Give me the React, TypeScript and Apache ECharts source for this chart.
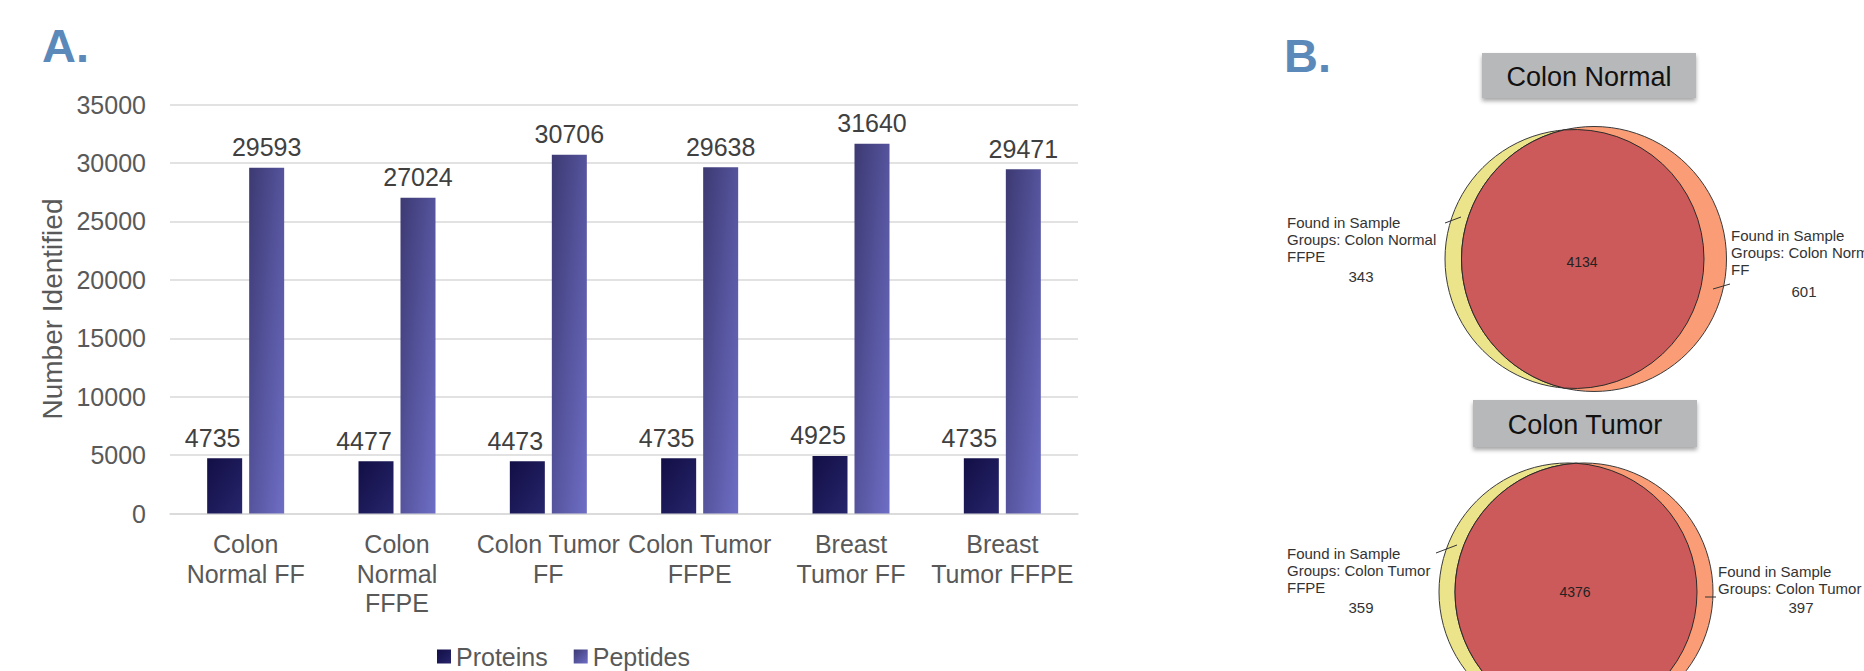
import React, { useEffect, useRef } from "react";
import * as echarts from "echarts";

// ---------- Panel A data ----------
const categories = [
  "Colon\nNormal FF",
  "Colon\nNormal\nFFPE",
  "Colon Tumor\nFF",
  "Colon Tumor\nFFPE",
  "Breast\nTumor FF",
  "Breast\nTumor FFPE",
];
const seriesNames = ["Proteins", "Peptides"];
const proteins = [4735, 4477, 4473, 4735, 4925, 4735];
const peptides = [29593, 27024, 30706, 29638, 31640, 29471];
const yMin = 0;
const yMax = 35000;
const yStep = 5000;
const yAxisTitle = "Number Identified";

// ---------- Panel B data ----------
const vennTitles = ["Colon Normal", "Colon Tumor"];
const vennLeftLabels = [
  "Found in Sample\nGroups: Colon Normal\nFFPE",
  "Found in Sample\nGroups: Colon Tumor\nFFPE",
];
const vennRightLabels = [
  "Found in Sample\nGroups: Colon Normal\nFF",
  "Found in Sample\nGroups: Colon Tumor FF",
];
const vennLeftCounts = [343, 359];
const vennRightCounts = [601, 397];
const vennOverlapCounts = [4134, 4376];
const panelLetters = ["A.", "B."];

// ---------- layout (positions only) ----------
const FONT = "'Liberation Sans', Arial, sans-serif";
const vennLayout = [
  {
    box: [1482, 53, 214, 45],
    y: { cx: 1574.5, r: 129.5 },
    o: { cx: 1594, r: 132.5 },
    cy: 259,
    center: [1582, 262],
    left: [1287, 214],
    leftCount: [1361, 276],
    right: [1731, 227],
    rightCount: [1804, 291],
    leftLeader: [1445, 223, 1461, 217],
    rightLeader: [1713, 289, 1730, 284],
  },
  {
    box: [1473, 400, 224, 47],
    y: { cx: 1568, r: 129 },
    o: { cx: 1584, r: 129 },
    cy: 592,
    center: [1575, 592],
    left: [1287, 545],
    leftCount: [1361, 607],
    right: [1718, 563],
    rightCount: [1801, 607],
    leftLeader: [1436, 553, 1457, 545],
    rightLeader: [1705, 597, 1716, 597],
  },
];

function lensPath(a: number, r1: number, b: number, r2: number, cy: number) {
  const d = b - a;
  const xo = (d * d + r1 * r1 - r2 * r2) / (2 * d);
  const h = Math.sqrt(r1 * r1 - xo * xo);
  const x = a + xo;
  const la1 = xo < 0 ? 1 : 0;
  const la2 = x - b > 0 ? 1 : 0;
  return `M${x} ${cy - h} A${r1} ${r1} 0 ${la1} 1 ${x} ${cy + h} A${r2} ${r2} 0 ${la2} 1 ${x} ${cy - h} Z`;
}

vennLayout.forEach((v, i) => {
  echarts.graphic.registerShape(
    "lens" + i,
    echarts.graphic.extendPath(lensPath(v.y.cx, v.y.r, v.o.cx, v.o.r, v.cy), {})
  );
});

function vennGraphics() {
  const els: any[] = [];
  vennLayout.forEach((v, i) => {
    const [bx, by, bw, bh] = v.box;
    els.push({
      type: "rect",
      shape: { x: bx, y: by, width: bw, height: bh },
      style: {
        fill: "#b7b8ba",
        shadowBlur: 4,
        shadowOffsetY: 3,
        shadowColor: "rgba(0,0,0,0.35)",
      },
      z: 10,
    });
    els.push({
      type: "text",
      x: bx + bw / 2,
      y: by + bh / 2 + 1,
      style: {
        text: vennTitles[i],
        fontFamily: FONT,
        fontSize: 27,
        fill: "#111",
        align: "center",
        verticalAlign: "middle",
      },
      z: 11,
    });
    els.push({
      type: "circle",
      shape: { cx: v.y.cx, cy: v.cy, r: v.y.r },
      style: { fill: "#ece48a", stroke: "#3a3a3a", lineWidth: 1 },
      z: 10,
    });
    els.push({
      type: "circle",
      shape: { cx: v.o.cx, cy: v.cy, r: v.o.r },
      style: { fill: "#fa9d76", stroke: "#3a3a3a", lineWidth: 1 },
      z: 11,
    });
    els.push({
      type: "lens" + i,
      style: { fill: "#cc5a5a", stroke: "#2a2a2a", lineWidth: 1 },
      z: 12,
    });
    els.push({
      type: "text",
      x: v.center[0],
      y: v.center[1],
      style: {
        text: String(vennOverlapCounts[i]),
        fontFamily: FONT,
        fontSize: 14,
        fill: "#222",
        align: "center",
        verticalAlign: "middle",
      },
      z: 13,
    });
    els.push({
      type: "text",
      x: v.left[0],
      y: v.left[1],
      style: {
        text: vennLeftLabels[i],
        fontFamily: FONT,
        fontSize: 15,
        lineHeight: 17,
        fill: "#333",
        align: "left",
        verticalAlign: "top",
      },
      z: 13,
    });
    els.push({
      type: "text",
      x: v.leftCount[0],
      y: v.leftCount[1],
      style: {
        text: String(vennLeftCounts[i]),
        fontFamily: FONT,
        fontSize: 15,
        fill: "#333",
        align: "center",
        verticalAlign: "middle",
      },
      z: 13,
    });
    els.push({
      type: "text",
      x: v.right[0],
      y: v.right[1],
      style: {
        text: vennRightLabels[i],
        fontFamily: FONT,
        fontSize: 15,
        lineHeight: 17,
        fill: "#333",
        align: "left",
        verticalAlign: "top",
      },
      z: 13,
    });
    els.push({
      type: "text",
      x: v.rightCount[0],
      y: v.rightCount[1],
      style: {
        text: String(vennRightCounts[i]),
        fontFamily: FONT,
        fontSize: 15,
        fill: "#333",
        align: "center",
        verticalAlign: "middle",
      },
      z: 13,
    });
    [v.leftLeader, v.rightLeader].forEach((l) => {
      els.push({
        type: "line",
        shape: { x1: l[0], y1: l[1], x2: l[2], y2: l[3] },
        style: { stroke: "#333", lineWidth: 1 },
        z: 14,
      });
    });
  });
  return els;
}

export default function App() {
  const ref = useRef<HTMLDivElement>(null);
  useEffect(() => {
    document.body.style.margin = "0";
    if (!ref.current) return;
    const chart = echarts.init(ref.current, null, { renderer: "svg" });
    const protGrad = new echarts.graphic.LinearGradient(0, 0, 1, 1, [
      { offset: 0, color: "#120e45" },
      { offset: 1, color: "#27256c" },
    ]);
    const pepGrad = new echarts.graphic.LinearGradient(0, 0, 1, 1, [
      { offset: 0, color: "#3c3972" },
      { offset: 1, color: "#6e6ec6" },
    ]);
    const labelBase = {
      show: true,
      position: "top",
      distance: 8,
      fontSize: 25,
      color: "#404040",
      fontFamily: FONT,
    };
    chart.setOption({
      animation: false,
      textStyle: { fontFamily: FONT },
      grid: { left: 170, right: 786, top: 104.6, bottom: 157.5, containLabel: false },
      legend: {
        data: seriesNames,
        left: 432,
        top: 639,
        icon: "rect",
        itemWidth: 14,
        itemHeight: 14,
        itemGap: 26,
        textStyle: { fontSize: 25, color: "#595959", fontFamily: FONT },
      },
      xAxis: {
        type: "category",
        data: categories,
        axisTick: { show: false },
        axisLine: { lineStyle: { color: "#d9d9d9", width: 1.5 } },
        axisLabel: {
          interval: 0,
          fontSize: 25,
          color: "#595959",
          lineHeight: 29.5,
          margin: 16,
          fontFamily: FONT,
        },
      },
      yAxis: {
        type: "value",
        min: yMin,
        max: yMax,
        interval: yStep,
        name: yAxisTitle,
        nameLocation: "middle",
        nameGap: 104,
        nameTextStyle: { fontSize: 28, color: "#595959", fontFamily: FONT },
        axisLabel: {
          fontSize: 25,
          color: "#595959",
          margin: 24,
          fontFamily: FONT,
          formatter: (v: number) => String(v),
        },
        splitLine: { lineStyle: { color: "#d9d9d9", width: 1.5 } },
        axisLine: { show: false },
        axisTick: { show: false },
      },
      series: [
        {
          name: seriesNames[0],
          type: "bar",
          data: proteins,
          barWidth: 35,
          barGap: "20%",
          itemStyle: { color: protGrad },
          label: { ...labelBase, offset: [-12, 0] },
        },
        {
          name: seriesNames[1],
          type: "bar",
          data: peptides,
          barWidth: 35,
          barGap: "20%",
          itemStyle: { color: pepGrad },
          label: { ...labelBase },
        },
      ],
      graphic: [
        {
          type: "text",
          x: 42,
          y: 22,
          style: {
            text: panelLetters[0],
            fontFamily: FONT,
            fontSize: 47,
            fontWeight: "bold",
            fill: "#5b89b9",
            align: "left",
            verticalAlign: "top",
          },
        },
        {
          type: "text",
          x: 1284,
          y: 32,
          style: {
            text: panelLetters[1],
            fontFamily: FONT,
            fontSize: 47,
            fontWeight: "bold",
            fill: "#5b89b9",
            align: "left",
            verticalAlign: "top",
          },
        },
        ...vennGraphics(),
      ],
    });
    return () => chart.dispose();
  }, []);
  return <div ref={ref} style={{ width: 1864, height: 671 }} />;
}
